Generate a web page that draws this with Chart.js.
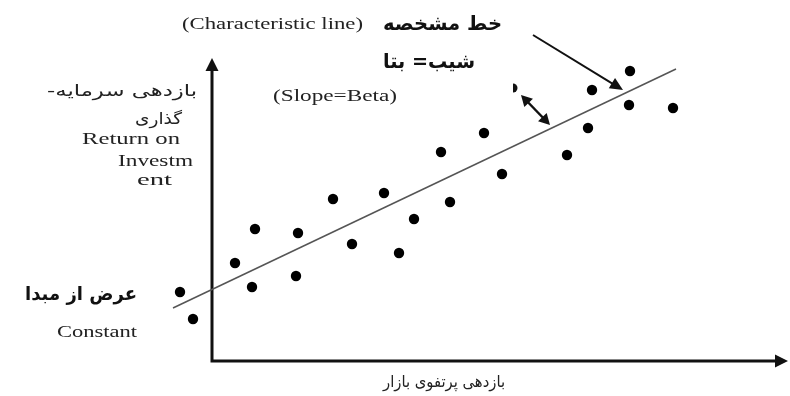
<!DOCTYPE html>
<html>
<head>
<meta charset="utf-8">
<script src="https://cdn.jsdelivr.net/npm/chart.js@4.4.1/dist/chart.umd.min.js"></script>
<style>
html,body{margin:0;padding:0;background:#fff;}
#c{display:block;}
</style>
</head>
<body>
<canvas id="c" width="790" height="396"></canvas>
<script>
// ---- data (market return x, investment return y) ----
const marketReturn = [-3.2,-1.9,2.3,4.3,4.0,8.6,8.4,12.1,14.0,17.2,20.2,18.7,22.9,23.8,27.2,29.0,35.5,37.6,38.0,41.7,41.8,46.1];
const investReturn = [6.9,4.2,9.8,13.2,7.4,12.8,8.5,16.2,11.7,16.8,14.2,10.8,20.9,15.9,22.8,18.7,20.6,23.3,27.1,25.6,29.0,25.3];
// characteristic line end points
const lineX = [-3.9, 46.4];
const lineY = [5.3, 29.2];
// axis extents
const xAxisEnd = 57.6;
const yAxisEnd = 30.3;
// annotation arrows (data coords)
const arrowFrom = [32.1, 32.6];
const arrowTo = [41.1, 27.1];
const dblFrom = [30.9, 26.6];
const dblTo = [33.8, 23.6];
const halfDot = [30.1, 27.3];

// ---- text labels ----
const serif = '"Liberation Serif", "Times New Roman", serif';
const arab = '"DejaVu Sans", sans-serif';
const labels = [
  {t:'(Characteristic line)', l:182, r:363, y:25, f:'16px '+serif, c:'#222', rtl:false},
  {t:'خط مشخصه', l:383, r:502, y:25, f:'bold 20px '+arab, c:'#111', rtl:true},
  {t:'شیب= بتا', l:383, r:475, y:63, f:'bold 20px '+arab, c:'#111', rtl:true},
  {t:'(Slope=Beta)', l:273, r:397, y:97, f:'16px '+serif, c:'#222', rtl:false},
  {t:'بازدهی سرمایه-', l:47, r:197, y:92, f:'16px '+arab, c:'#222', rtl:true},
  {t:'گذاری', l:135, r:182, y:120, f:'16px '+arab, c:'#222', rtl:true},
  {t:'Return on', l:82, r:180, y:140, f:'16px '+serif, c:'#222', rtl:false},
  {t:'Investm', l:118, r:193, y:162, f:'16px '+serif, c:'#222', rtl:false},
  {t:'ent', l:137, r:172, y:181, f:'16px '+serif, c:'#222', rtl:false},
  {t:'عرض از مبدا', l:25, r:137, y:295, f:'bold 19px '+arab, c:'#111', rtl:true},
  {t:'Constant', l:57, r:137, y:333, f:'16px '+serif, c:'#222', rtl:false},
  {t:'بازدهی پرتفوی بازار', l:383, r:505, y:383, f:'16px '+arab, c:'#222', rtl:true}
];

function arrowHead(ctx, x1, y1, x2, y2, len, half){
  const a = Math.atan2(y2-y1, x2-x1);
  ctx.beginPath();
  ctx.moveTo(x2, y2);
  ctx.lineTo(x2 - len*Math.cos(a) + half*Math.sin(a), y2 - len*Math.sin(a) - half*Math.cos(a));
  ctx.lineTo(x2 - len*Math.cos(a) - half*Math.sin(a), y2 - len*Math.sin(a) + half*Math.cos(a));
  ctx.closePath();
  ctx.fill();
}

const decor = {
  id:'decor',
  beforeDatasetsDraw(chart){
    const ctx = chart.ctx, xs = chart.scales.x, ys = chart.scales.y;
    const ox = xs.getPixelForValue(0), oy = ys.getPixelForValue(0);
    const xe = xs.getPixelForValue(xAxisEnd), ye = ys.getPixelForValue(yAxisEnd);
    ctx.save();
    ctx.strokeStyle = '#111'; ctx.fillStyle = '#111'; ctx.lineWidth = 3;
    ctx.beginPath();
    ctx.moveTo(ox, ye + 8); ctx.lineTo(ox, oy); ctx.lineTo(xe - 8, oy);
    ctx.stroke();
    arrowHead(ctx, ox, oy, ox, ye, 13, 6.5);
    arrowHead(ctx, ox, oy, xe, oy, 13, 6.5);
    ctx.restore();
  },
  afterDatasetsDraw(chart){
    const ctx = chart.ctx, xs = chart.scales.x, ys = chart.scales.y;
    const P = p => [xs.getPixelForValue(p[0]), ys.getPixelForValue(p[1])];
    ctx.save();
    ctx.strokeStyle = '#111'; ctx.fillStyle = '#111';
    // big arrow
    let [a1,b1] = P(arrowFrom), [a2,b2] = P(arrowTo);
    const ang = Math.atan2(b2-b1, a2-a1);
    ctx.lineWidth = 2;
    ctx.beginPath(); ctx.moveTo(a1,b1); ctx.lineTo(a2-10*Math.cos(ang), b2-10*Math.sin(ang)); ctx.stroke();
    arrowHead(ctx, a1,b1,a2,b2, 13, 6);
    // double arrow
    let [c1,d1] = P(dblFrom), [c2,d2] = P(dblTo);
    const ang2 = Math.atan2(d2-d1, c2-c1);
    ctx.lineWidth = 2.5;
    ctx.beginPath();
    ctx.moveTo(c1+8*Math.cos(ang2), d1+8*Math.sin(ang2));
    ctx.lineTo(c2-8*Math.cos(ang2), d2-8*Math.sin(ang2));
    ctx.stroke();
    arrowHead(ctx, c2,d2,c1,d1, 11, 6);
    arrowHead(ctx, c1,d1,c2,d2, 11, 6);
    // half dot
    const [hx,hy] = P(halfDot);
    ctx.beginPath(); ctx.arc(hx, hy, 4.5, -Math.PI/2, Math.PI/2); ctx.closePath(); ctx.fill();
    // labels
    ctx.textBaseline = 'middle';
    labels.forEach(L => {
      ctx.save();
      ctx.font = L.f;
      ctx.fillStyle = L.c;
      ctx.direction = L.rtl ? 'rtl' : 'ltr';
      ctx.textAlign = 'center';
      const w = ctx.measureText(L.t).width;
      const s = (L.r - L.l) / w;
      ctx.translate((L.l + L.r)/2, L.y);
      ctx.scale(s, 1);
      ctx.fillText(L.t, 0, 0);
      ctx.restore();
    });
    ctx.restore();
  }
};

const points = marketReturn.map((x,i) => ({x:x, y:investReturn[i]}));
const linePts = lineX.map((x,i) => ({x:x, y:lineY[i]}));

new Chart(document.getElementById('c'), {
  type:'scatter',
  data:{
    datasets:[
      {type:'line', data:linePts, borderColor:'#555', borderWidth:1.5, pointRadius:0, fill:false, showLine:true, order:2, clip:false},
      {data:points, backgroundColor:'#000', borderColor:'#000', pointRadius:5.2, pointBorderWidth:0, order:1, clip:false}
    ]
  },
  options:{
    responsive:false,
    devicePixelRatio:1,
    animation:false,
    layout:{autoPadding:false, padding:{left:162, right:0, top:30, bottom:10}},
    plugins:{legend:{display:false}, tooltip:{enabled:false}},
    scales:{
      x:{type:'linear', min:-5, max:57.8, display:false},
      y:{type:'linear', min:-2.5, max:33.1, display:false}
    }
  },
  plugins:[decor]
});
</script>
</body>
</html>
